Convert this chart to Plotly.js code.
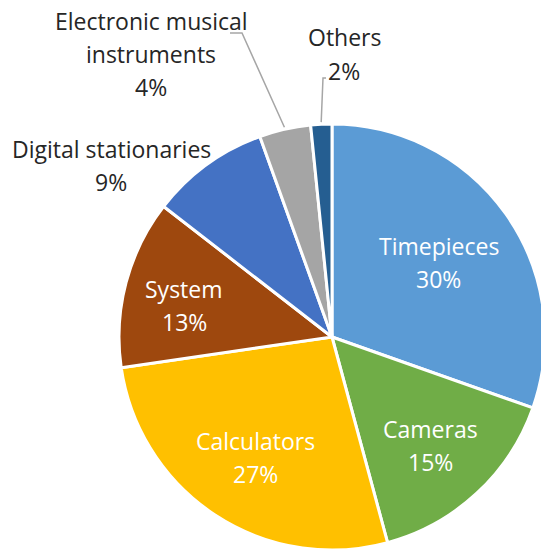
<!DOCTYPE html>
<html>
<head>
<meta charset="utf-8">
<script src="https://cdn.plot.ly/plotly-3.0.1.min.js"></script>
<style>
html,body{margin:0;padding:0;overflow:hidden;background:#fff;}
#chart{width:548px;height:554px;}
</style>
</head>
<body>
<div id="chart"></div>
<script>
// ---- data ----
const categories = ['Timepieces','Cameras','Calculators','System','Digital stationaries','Electronic musical instruments','Others'];
const shares = [30.4,15.4,26.9,12.8,9.0,3.9,1.6];
const labelLines = [['Timepieces'],['Cameras'],['Calculators'],['System'],['Digital stationaries'],['Electronic musical','instruments'],['Others']];

// ---- style ----
const sliceColors = ['#5B9BD5','#70AD47','#FFC000','#9E480E','#4472C4','#A5A5A5','#255E91'];
const W = 548, H = 554;
const CX = 332, CY = 337, R = 213;
// inside labels: radial factor (+ small angle tweak, degrees) along slice mid angle; outside labels: pixel centre + leader elbow
const labelPlace = [
  {inside:true, r:0.61, da:0.5},
  {inside:true, r:0.69, da:0.5},
  {inside:true, r:0.67, da:-1},
  {inside:true, r:0.71, da:-2.6},
  {inside:false, cx:111, cy:165},
  {inside:false, cx:151, cy:54, elbow:[[242,33],[230,33]]},
  {inside:false, cx:344, cy:54, elbow:[[323,78],[326,78]]}
];
const FONT = 'Open Sans, sans-serif';
const FS = 23;
const LINE = 33;

const total = shares.reduce((a,b)=>a+b,0);
const px = x => x / W;
const py = y => 1 - y / H;

const annotations = [];
const shapes = [];
let cum = 0;
shares.forEach((v, i) => {
  const mid = (cum + v/2) / total * 2 * Math.PI;
  cum += v;
  const pl = labelPlace[i];
  let cx, cy;
  if (pl.inside) {
    const a = mid + (pl.da || 0) * Math.PI / 180;
    cx = CX + R*pl.r*Math.sin(a);
    cy = CY - R*pl.r*Math.cos(a);
  } else {
    cx = pl.cx; cy = pl.cy;
  }
  const lines = labelLines[i].concat([Math.round(v/total*100) + '%']);
  const n = lines.length;
  lines.forEach((t, k) => {
    annotations.push({
      xref:'paper', yref:'paper', x:px(cx), y:py(cy + (k-(n-1)/2)*LINE),
      xanchor:'center', yanchor:'middle', showarrow:false, text:t,
      font:{family:FONT, size:FS, color: pl.inside ? '#ffffff' : '#262626'}
    });
  });
  if (pl.elbow) {
    const ex = CX + R*1.01*Math.sin(mid), ey = CY - R*1.01*Math.cos(mid);
    let path = 'M' + px(ex) + ',' + py(ey);
    pl.elbow.forEach(p => { path += ' L' + px(p[0]) + ',' + py(p[1]); });
    shapes.push({type:'path', xref:'paper', yref:'paper', path:path, line:{color:'#A6A6A6', width:1.5}});
  }
});

const trace = {
  type:'pie',
  labels: categories,
  values: shares,
  sort:false,
  direction:'clockwise',
  rotation:0,
  textinfo:'none',
  hoverinfo:'label+percent',
  showlegend:false,
  marker:{colors:sliceColors, line:{color:'#ffffff', width:3}},
  domain:{x:[(CX-R)/W,(CX+R)/W], y:[(H-CY-R)/H,(H-CY+R)/H]}
};

Plotly.newPlot('chart', [trace], {
  width:W, height:H,
  margin:{l:0,r:0,t:0,b:0},
  paper_bgcolor:'#ffffff',
  showlegend:false,
  annotations:annotations,
  shapes:shapes
}, {displayModeBar:false, staticPlot:true});
</script>
</body>
</html>
